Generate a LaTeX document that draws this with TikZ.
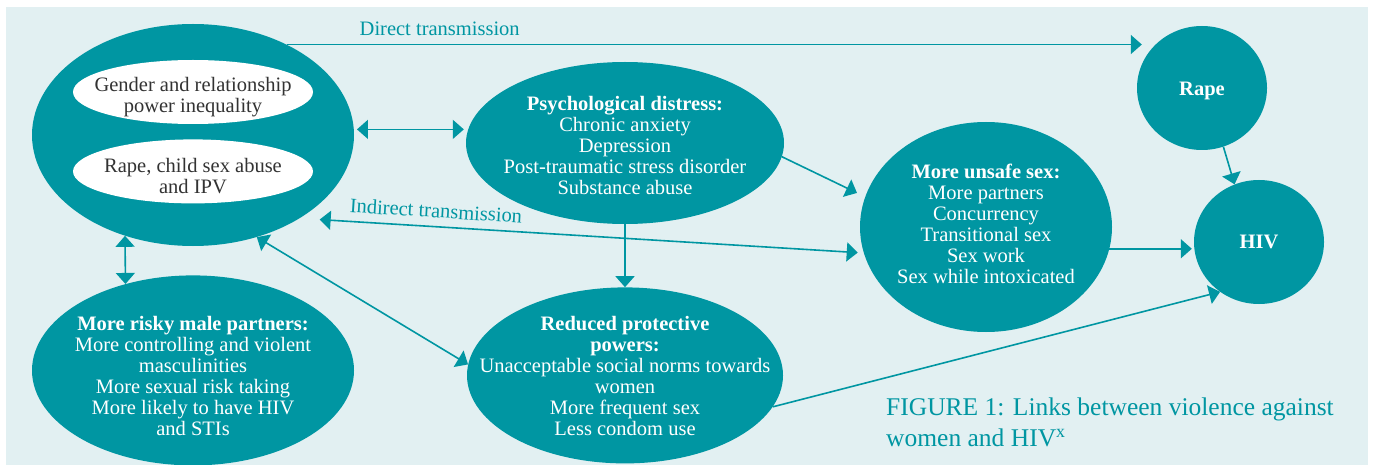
\documentclass[tikz,border=0pt]{standalone}
\usepackage{fontspec}
\setmainfont{Liberation Serif}
\usetikzlibrary{shapes,arrows.meta,positioning}
\definecolor{vawteal}{RGB}{0,150,162}
\definecolor{vawbg}{RGB}{226,240,242}
\definecolor{vawgrey}{RGB}{51,51,51}

\begin{document}
\begin{tikzpicture}[x=1pt,y=-1pt,
            >={Triangle[width=19pt,length=11pt]},
            link/.style={color=vawteal,line width=1.6pt},
            main node/.style={ellipse,inner sep=0pt,fill=vawteal},
            inner node/.style={ellipse,inner sep=0pt,fill=white,
             minimum width=240pt, minimum height=64pt},
            node text/.style={inner sep=0pt,text=white,align=center,
             font=\fontsize{20.5}{21}\selectfont},
            link label/.style={text=vawteal,inner sep=0pt,font=\fontsize{20.5}{21}\selectfont}]

            \useasboundingbox (0,0) rectangle (1373,465);
            \fill[vawbg] (6,7) rectangle (1368,465);

            % shapes
            \node[main node, minimum width=322pt, minimum height=222pt] (violence) at (193,135) {};
            \node[inner node] (gender) at (193,92) {};
            \node[inner node] (abuse) [below=15pt of gender] {};
            \node[main node, minimum width=322pt, minimum height=190pt] (risky) [below=29pt of violence] {};
            \node[main node, minimum width=318pt, minimum height=162pt] (psych) at (625,143) {};
            \node[main node, minimum width=316pt, minimum height=176pt] (reduced) [below=63pt of psych] {};
            \node[main node, minimum width=252pt, minimum height=210pt] (unsafe) at (986,227) {};
            \node[main node, minimum width=130pt, minimum height=124pt] (rape) at (1202,88) {};
            \node[main node, minimum width=130pt, minimum height=124pt] (hiv) at (1259,242) {};

            % texts
            \node[node text, text=vawgrey] (gendertxt) at (193,97) {Gender and relationship\\power inequality};
            \node[node text, text=vawgrey] (abusetxt) at (193,176) {Rape, child sex abuse\\and IPV};
            \node[node text] (riskytxt) at (193,376)
              {\textbf{More risky male partners:}\\More controlling and violent\\masculinities\\More sexual risk taking\\More likely to have HIV\\and STIs};
            \node[node text] (psychtxt) at (625,145)
              {\textbf{Psychological distress:}\\Chronic anxiety\\Depression\\Post-traumatic stress disorder\\Substance abuse};
            \node[node text] (reducedtxt) at (625,376)
              {\textbf{Reduced protective}\\\textbf{powers:}\\Unacceptable social norms towards\\women\\More frequent sex\\Less condom use};
            \node[node text] (unsafetxt) at (986,224)
              {\textbf{More unsafe sex:}\\More partners\\Concurrency\\Transitional sex\\Sex work\\Sex while intoxicated};
            \node[node text] (rapetxt) at (1202,91) {\textbf{Rape}};
            \node[node text] (hivtxt) at (1259,242) {\textbf{HIV}};

            \node[anchor=north west, inner sep=0pt, align=left, text=vawteal,
              font=\fontsize{25.5}{31}\selectfont] (caption) at (886,398)
              {FIGURE 1: Links between violence against\\women and HIV\textsuperscript{x}};

            \path[link,->]
              (violence.44) edge[shorten >=-5pt] node[link label, above=8pt, pos=0.18] (directlbl) {Direct transmission} (violence.44 -| rape.west)
              (psych.south) edge (reduced.north)
              (psych.355) edge[shorten >=9pt] (unsafe.166)
              (unsafe.350) edge[shorten >=2pt] (unsafe.350 -| hiv.west)
              (rape.290) edge (hiv.113)
              (reduced.348) edge (hiv.232);

            \path[link,<->]
              (violence.2) edge[shorten <=3pt, shorten >=2pt] (violence.2 -| psych.west)
              (violence.236) edge (risky.128)
              (violence.302) edge (reduced.176)
              (violence.322) edge[shorten <=20pt, shorten >=6pt] node[link label, sloped, above=8pt, pos=0.24] (indirectlbl) {Indirect transmission} (unsafe.192);

\end{tikzpicture}
\end{document}
